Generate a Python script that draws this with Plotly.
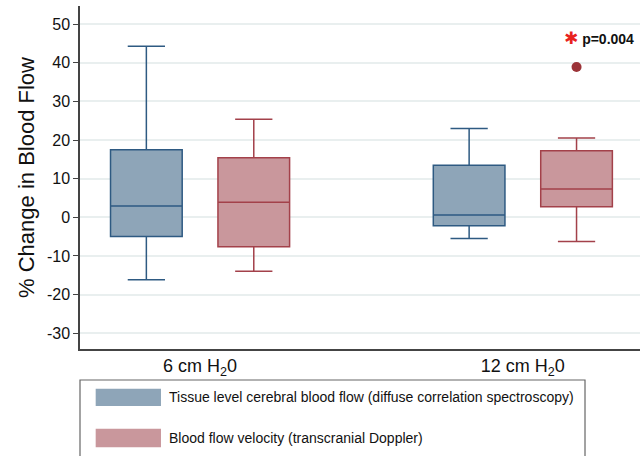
import plotly.graph_objects as go

groups = ["6 cm H<sub>2</sub>0", "12 cm H<sub>2</sub>0"]
series_names = ["Tissue level cerebral blood flow (diffuse correlation spectroscopy)",
                "Blood flow velocity (transcranial Doppler)"]
# precomputed box statistics per group
dcs_lower = [-16.2, -5.5]
dcs_q1 = [-5.0, -2.2]
dcs_median = [2.9, 0.6]
dcs_q3 = [17.5, 13.5]
dcs_upper = [44.3, 23.0]

tcd_lower = [-14.0, -6.3]
tcd_q1 = [-7.6, 2.7]
tcd_median = [3.9, 7.3]
tcd_q3 = [15.4, 17.2]
tcd_upper = [25.4, 20.5]

tcd_outlier_group = [1]
tcd_outlier_value = [38.9]

yticks = [-30, -20, -10, 0, 10, 20, 30, 40, 50]
ytick_labels = ["-30", "-20", "-10", "0", "10", "20", "30", "40", "50"]

OFF = 0.1664
BW = 0.222
blue_fill, blue_line = "#8EA5B8", "#2E5A82"
red_fill, red_line = "#C9979C", "#A3414A"

gi = list(range(len(groups)))
fig = go.Figure()
fig.add_trace(go.Box(x=[g - OFF for g in gi], q1=dcs_q1, median=dcs_median, q3=dcs_q3,
                     lowerfence=dcs_lower, upperfence=dcs_upper, width=BW,
                     whiskerwidth=0.52, fillcolor=blue_fill,
                     line=dict(color=blue_line, width=1.5), name=series_names[0],
                     boxpoints=False, hoverinfo="skip"))
fig.add_trace(go.Box(x=[g + OFF for g in gi], q1=tcd_q1, median=tcd_median, q3=tcd_q3,
                     lowerfence=tcd_lower, upperfence=tcd_upper, width=BW,
                     whiskerwidth=0.52, fillcolor=red_fill,
                     line=dict(color=red_line, width=1.5), name=series_names[1],
                     boxpoints=False, hoverinfo="skip"))
fig.add_trace(go.Scatter(x=[g + OFF for g in tcd_outlier_group], y=tcd_outlier_value,
                         mode="markers", marker=dict(size=10, color="#9B3338"),
                         showlegend=False, hoverinfo="skip"))

font = "Liberation Sans, Arial, Helvetica, sans-serif"
fig.update_layout(
    width=641, height=456, margin=dict(l=80, r=1, t=6, b=107),
    paper_bgcolor="white", plot_bgcolor="white", showlegend=False,
    font=dict(family=font, color="#111"),
    xaxis=dict(range=[-0.372, 1.363], tickvals=gi, ticktext=groups, showgrid=False,
               zeroline=False, showline=True, linecolor="#444", linewidth=1.5,
               ticks="", tickfont=dict(size=18), automargin=False),
    yaxis=dict(range=[-34.1, 54.7], tickvals=yticks, ticktext=ytick_labels,
               showgrid=True, gridcolor="#E9EFEF",
               gridwidth=1.5, zeroline=False,
               showline=True, linecolor="#444", linewidth=1.5, ticks="outside",
               ticklen=5, tickcolor="#444", tickfont=dict(size=16), automargin=False,
               title=dict(text="% Change in Blood Flow", font=dict(size=22), standoff=6)),
)

# zero reference line (below the boxes)
fig.add_hline(y=0, line=dict(color="#C8313C", width=1.3), layer="below")

fig.add_annotation(x=1.3507, y=46.4, xref="x", yref="y", xanchor="right", yanchor="middle",
                   showarrow=False,
                   text="<span style='color:#E8231E;font-family:DejaVu Sans;font-size:17px'>✱</span> <b>p=0.004</b>",
                   font=dict(size=14, color="#111"))

# legend box
fig.add_shape(type="rect", xref="paper", yref="paper", x0=0, x1=0.9018, y0=-0.0904, y1=-0.40,
              line=dict(color="#666", width=1.2), fillcolor="white")
sw = [(-0.1157, -0.1662, blue_fill), (-0.2324, -0.2866, red_fill)]
for (y0, y1, c), name in zip(sw, series_names):
    fig.add_shape(type="rect", xref="paper", yref="paper", x0=0.028, x1=0.1446, y0=y0, y1=y1,
                  line=dict(width=0), fillcolor=c)
    fig.add_annotation(x=0.1554, y=(y0 + y1) / 2, xref="paper", yref="paper", xanchor="left",
                       yanchor="middle", showarrow=False, text=name,
                       font=dict(size=14, color="#111"))

fig.write_html("out.html", config={"displayModeBar": False},
               post_script="document.body.style.margin='0';document.body.style.overflow='hidden';")
